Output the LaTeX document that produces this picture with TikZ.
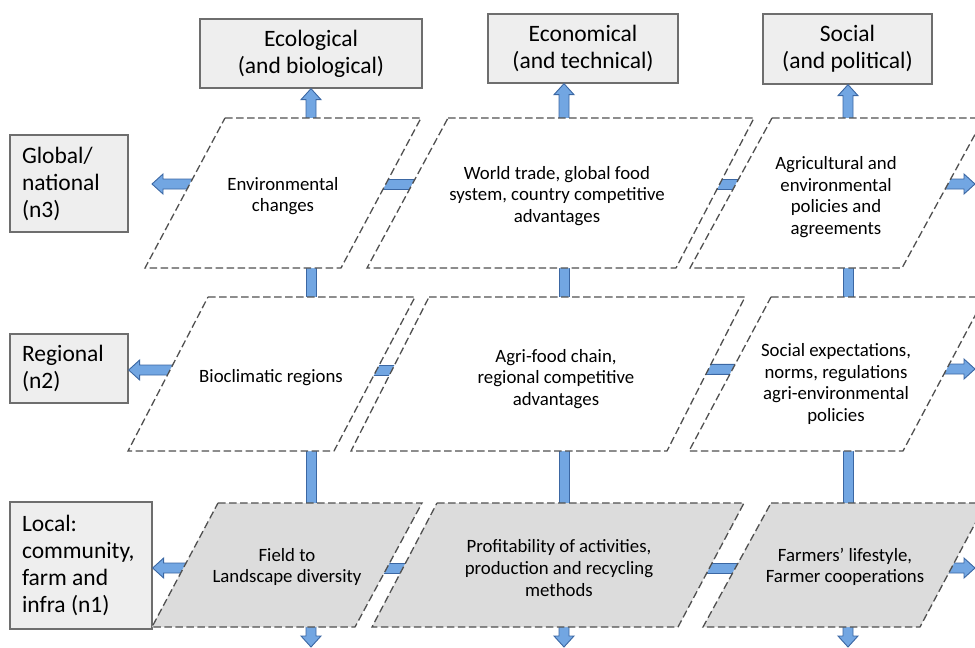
\documentclass[tikz,border=0pt]{standalone}
\usepackage{fontspec}
\setmainfont{Carlito}
\usetikzlibrary{calc}
\definecolor{boxfill}{HTML}{EEEEEE}
\definecolor{boxline}{HTML}{6E6E6E}
\definecolor{lowfill}{HTML}{DCDCDC}
\definecolor{dashline}{HTML}{505050}
\definecolor{arrfill}{HTML}{72A6E2}
\definecolor{arrline}{HTML}{3B67A3}
\newcommand\shaftw{5pt}
\newcommand\headw{10pt}
\newcommand\headl{11pt}
\newcommand\arrowto[2]{%
  \coordinate (tmpA) at (#1);
  \coordinate (tmpB) at (#2);
  \coordinate (tmpH) at ($(tmpB)!\headl!(tmpA)$);
  \path[blockarrow] ($(tmpA)!\shaftw!90:(tmpB)$) -- ($(tmpH)!\shaftw!90:(tmpB)$) -- ($(tmpH)!\headw!90:(tmpB)$) -- (tmpB) -- ($(tmpH)!\headw!-90:(tmpB)$) -- ($(tmpH)!\shaftw!-90:(tmpB)$) -- ($(tmpA)!\shaftw!-90:(tmpB)$) -- cycle;}
\newcommand\barto[2]{%
  \coordinate (tmpA) at (#1);
  \coordinate (tmpB) at (#2);
  \path[blockarrow] ($(tmpA)!\shaftw!90:(tmpB)$) -- ($(tmpB)!\shaftw!-90:(tmpA)$) -- ($(tmpB)!\shaftw!90:(tmpA)$) -- ($(tmpA)!\shaftw!-90:(tmpB)$) -- cycle;}
\tikzset{
  catbox/.style={draw=boxline, fill=boxfill, line width=1.3pt, font=\fontsize{23.5}{27}\selectfont, align=center, inner sep=0pt},
  lvlbox/.style={draw=boxline, fill=boxfill, line width=1.3pt, font=\fontsize{23.5}{27}\selectfont, align=flush left, inner xsep=12pt, inner ysep=0pt},
  pgram/.style={draw=dashline, line width=1.3pt, dash pattern=on 7.5pt off 3.5pt, fill=white},
  pgramlow/.style={pgram, fill=lowfill},
  ptext/.style={font=\fontsize{18.8}{21.7}\selectfont, align=center, inner sep=0pt},
  blockarrow/.style={draw=arrline, fill=arrfill, line width=0.9pt, line join=miter},
}
\begin{document}
\begin{tikzpicture}[x=1pt, y=-1pt]
\useasboundingbox (0,0) rectangle (975,648);
\clip (0,0) rectangle (975,648);
% category boxes
\node[catbox, minimum width=222pt, minimum height=69pt] (eco) at (311,53.5) {Ecological\\(and biological)};
\node[catbox, minimum width=190pt, minimum height=69pt] (econ) at (583,48.5) {Economical\\(and technical)};
\node[catbox, minimum width=169pt, minimum height=70pt] (soc) at (847.5,49) {Social\\(and political)};
% level boxes
\node[lvlbox, text width=94pt, minimum height=97pt] (gl) at (69,183.5) {Global/\\national\\(n3)};
\node[lvlbox, text width=94pt, minimum height=69pt] (reg) at (69,368.5) {Regional\\(n2)};
\node[lvlbox, text width=118pt, minimum height=127pt] (loc) at (81,565.5) {Local:\\community,\\farm and\\infra (n1)};
% connector anchors
\coordinate (q11) at (311,193); \coordinate (q12) at (564,193); \coordinate (q13) at (848,193);
\coordinate (q21) at (311,374); \coordinate (q22) at (564,374); \coordinate (q23) at (848,374);
\coordinate (q31) at (311,565); \coordinate (q32) at (564,565); \coordinate (q33) at (848,565);
\coordinate (bot) at (0,647);
\coordinate (h11) at (283,184); \coordinate (h12) at (561,184); \coordinate (h13) at (837,184);
\coordinate (h21) at (271,370); \coordinate (h22) at (556,370); \coordinate (h23) at (836,369);
\coordinate (h31) at (287,568); \coordinate (h32) at (559,568); \coordinate (h33) at (845,568);
\coordinate (lt1) at (152,184);
\coordinate (rt1) at (975,184); \coordinate (rt2) at (975,369); \coordinate (rt3) at (975,568);
% vertical connectors
\arrowto{q11}{q11 |- eco.south}
\arrowto{q12}{q12 |- econ.south}
\arrowto{q13}{q13 |- soc.south}
\barto{q11}{q21}
\barto{q12}{q22}
\barto{q13}{q23}
\barto{q21}{q31}
\barto{q22}{q32}
\barto{q23}{q33}
\arrowto{q31}{q31 |- bot}
\arrowto{q32}{q32 |- bot}
\arrowto{q33}{q33 |- bot}
% horizontal connectors
\arrowto{h11}{lt1}
\barto{h11}{h12}
\barto{h12}{h13}
\arrowto{h13}{rt1}
\arrowto{h21}{reg.east |- h21}
\barto{h21}{h22}
\barto{h22}{h23}
\arrowto{h23}{rt2}
\arrowto{h31}{loc.east |- h31}
\barto{h31}{h32}
\barto{h32}{h33}
\arrowto{h33}{rt3}
% parallelograms
\path[pgram] (225,118) -- (421,118) -- (341,268) -- (145,268) -- cycle;
\path[pgram] (448,118) -- (754,118) -- (676,268) -- (367,268) -- cycle;
\path[pgram] (772,118) -- (984,118) -- (902,268) -- (690,268) -- cycle;
\path[pgram] (208,297) -- (415,297) -- (334,451) -- (128,451) -- cycle;
\path[pgram] (429,297) -- (745,297) -- (667,451) -- (351,451) -- cycle;
\path[pgram] (771,297) -- (985,297) -- (903,451) -- (689,451) -- cycle;
\path[pgramlow] (218,503) -- (422,503) -- (355,627) -- (152,627) -- cycle;
\path[pgramlow] (437,503) -- (744,503) -- (678,627) -- (372,627) -- cycle;
\path[pgramlow] (771,503) -- (986,503) -- (920,627) -- (703,627) -- cycle;
% texts
\node[ptext] (p11) at (283,196) {Environmental\\changes};
\node[ptext] (p12) at (557,196) {World trade, global food\\system, country competitive\\advantages};
\node[ptext] (p13) at (836,197) {Agricultural and\\environmental\\policies and\\agreements};
\node[ptext] (p21) at (271,378) {Bioclimatic regions};
\node[ptext] (p22) at (556,379) {Agri-food chain,\\regional competitive\\advantages};
\node[ptext] (p23) at (836,384) {Social expectations,\\norms, regulations\\agri-environmental\\policies};
\node[ptext] (p31) at (287,567) {Field to\\Landscape diversity};
\node[ptext] (p32) at (559,568) {Profitability of activities,\\production and recycling\\methods};
\node[ptext] (p33) at (845,567) {Farmers’ lifestyle,\\Farmer cooperations};
\end{tikzpicture}
\end{document}
